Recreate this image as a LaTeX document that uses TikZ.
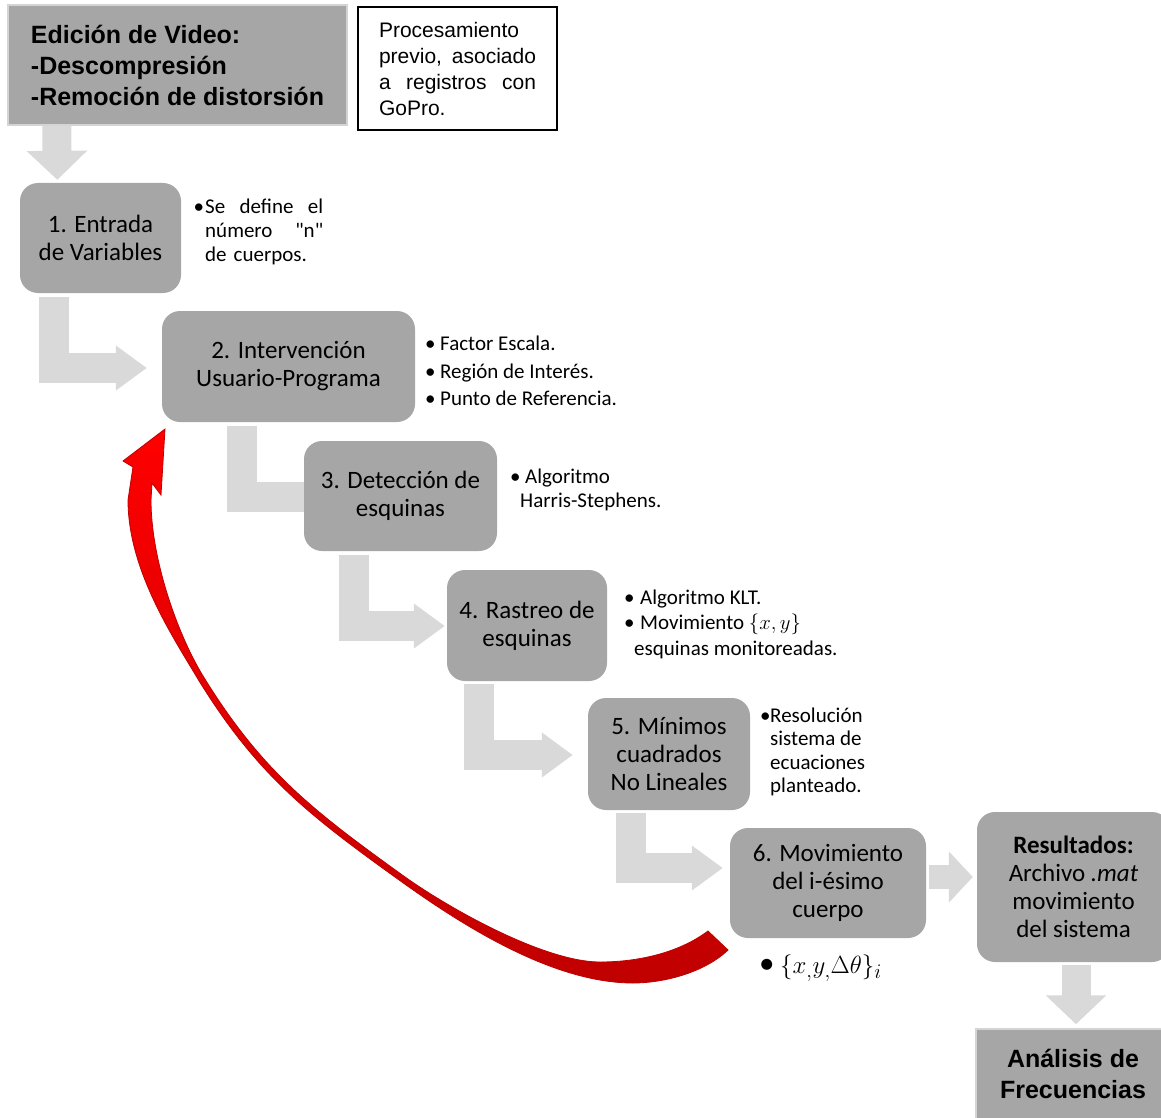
\documentclass[tikz,border=0pt]{standalone}
\usepackage{fontspec}
\setmainfont{Carlito}
\newfontfamily\arialfont{Liberation Sans}
\usetikzlibrary{arrows.meta,backgrounds}
\definecolor{boxgray}{HTML}{A6A6A6}
\definecolor{arrowgray}{HTML}{D9D9D9}
\definecolor{edgegray}{HTML}{D4D4D4}
\definecolor{loopred}{HTML}{C00000}
\tikzset{
  stepbox/.style={fill=boxgray, rounded corners=18pt, align=center, inner sep=0pt,
    font=\fontsize{25}{28}\selectfont},
  headbox/.style={fill=boxgray, draw=edgegray, line width=1.5pt, inner sep=0pt,
    font=\arialfont\bfseries\fontsize{25}{31}\selectfont},
  note/.style={align=left, inner sep=0pt, font=\fontsize{21}{27.5}\selectfont},
  elbow/.style={draw=arrowgray, line width=30pt, line join=miter,
    -{Triangle[length=31pt,width=43pt]}},
  elbowbar/.style={draw=arrowgray, line width=30pt, line join=miter},
  downarrow/.style={draw=arrowgray, line width=29pt, -{Triangle[length=29pt,width=59pt]}},
  sidearrow/.style={draw=arrowgray, line width=24pt, -{Triangle[length=24pt,width=50pt]}}
}
\newcommand{\puce}[1]{\makebox[#1][l]{\textbullet}}
\newcommand{\guill}{\XeTeXglyph\XeTeXcharglyph"22\relax}
\begin{document}
\begin{tikzpicture}[x=1pt,y=-1pt]
    \useasboundingbox (0,0) rectangle (1161,1118);
    \clip (0,0) rectangle (1161,1118);
    % Boîtes du haut
    \node[headbox, minimum width=339pt, minimum height=120pt, align=left] (video) at (177.5,65)
        {Edición de Video:\\-Descompresión\\-Remoción de distorsión};
    \node[draw, line width=1.5pt, minimum width=199pt, minimum height=123pt, text width=157pt, inner sep=0pt,
        align=left, font=\arialfont\fontsize{21}{26}\selectfont] (gopro) at (457.5,68.5)
        {Procesamiento\\previo,\hfill asociado\\a\hfill registros\hfill con\\GoPro.};
    % Étapes
    \node[stepbox, minimum width=161pt, minimum height=110pt] (e1) at (100.5,238) {1. Entrada\\de Variables};
    \node[stepbox, minimum width=253pt, minimum height=111pt] (e2) at (288.5,366.5) {2. Intervención\\Usuario-Programa};
    \node[stepbox, minimum width=193pt, minimum height=110pt] (e3) at (400.5,496) {3. Detección de\\esquinas};
    \node[stepbox, minimum width=160pt, minimum height=111pt] (e4) at (527,625.5) {4. Rastreo de\\esquinas};
    \node[stepbox, minimum width=162pt, minimum height=112pt] (e5) at (669,754) {5. Mínimos\\cuadrados\\No Lineales};
    \node[stepbox, minimum width=196pt, minimum height=110pt] (e6) at (828,883) {6. Movimiento\\del i-ésimo\\cuerpo};
    % Résultats et analyse
    \node[stepbox, minimum width=193pt, minimum height=150pt] (res) at (1073.5,887)
        {\textbf{Resultados:}\\Archivo \textit{.mat}\\movimiento\\del sistema};
    \node[headbox, align=center, minimum width=194pt, minimum height=90pt] (ana) at (1073,1074)
        {Análisis de\\Frecuencias};
    % Flèches grises (derrière les boîtes)
    \begin{scope}[on background layer]
        \draw[downarrow] ([xshift=49.5pt]video.south west) -- ([xshift=37.5pt,yshift=3pt]e1.north west);
        \draw[elbow] ([xshift=34.5pt,yshift=-4pt]e1.south west) |- ([xshift=-15pt,yshift=-1.5pt]e2.west);
        \draw[elbowbar] ([xshift=80.5pt,yshift=-4pt]e2.south west) |- ([yshift=-1pt]e3.west);
        \draw[elbow] ([xshift=50.5pt,yshift=-4pt]e3.south west) |- ([xshift=-2pt,yshift=-0.5pt]e4.west);
        \draw[elbow] ([xshift=32.5pt,yshift=-3pt]e4.south west) |- ([xshift=-15pt,yshift=-1pt]e5.west);
        \draw[elbow] ([xshift=43pt,yshift=-3pt]e5.south west) |- ([xshift=-7pt,yshift=15pt]e6.west);
        \draw[sidearrow] ([xshift=3pt,yshift=6pt]e6.east) -- ([xshift=-4pt,yshift=10pt]res.west);
        \draw[downarrow] ([xshift=2.5pt,yshift=-3pt]res.south) -- ([xshift=3pt,yshift=4pt]ana.north);
    \end{scope}
    % Notes à droite des étapes
    \node[note, anchor=west, text width=118pt, font=\fontsize{21}{24}\selectfont] (n1) at (205,232)
        {\llap{\textbullet\hspace{1pt}}Se\hfill define\hfill el\\número\hfill \guill n\guill\\de cuerpos.};
    \node[note, anchor=west] (n2) at (425,371)
        {\puce{15pt}Factor Escala.\\\puce{15pt}Región de Interés.\\\puce{15pt}Punto de Referencia.};
    \node[note, anchor=west, font=\fontsize{21}{24}\selectfont] (n3) at (510,490)
        {\puce{15pt}Algoritmo\\\hspace*{10pt}Harris-Stephens.};
    \node[note, anchor=west, font=\fontsize{21}{25.5}\selectfont] (n4) at (624,624)
        {\puce{16pt}Algoritmo KLT.\\\puce{16pt}Movimiento $\{x, y\}$\\\hspace*{10pt}esquinas monitoreadas.};
    \node[note, anchor=west, font=\fontsize{21}{23.5}\selectfont] (n5) at (760,752)
        {\puce{10pt}Resolución\\\hspace*{10pt}sistema de\\\hspace*{10pt}ecuaciones\\\hspace*{10pt}planteado.};
    \node[note, anchor=west, font=\fontsize{31}{33}\selectfont] (n6) at (759,968)
        {\puce{21pt}$\{x_{,}y_{,}\Delta\theta\}_i$};
    % Flèche rouge de retour (de l'étape 6 vers l'étape 2)
    \shadedraw[top color=red, bottom color=loopred, draw=loopred, line width=0.8pt, line join=miter]
        (708,931) .. controls (680,952) and (640,962) .. (600,962)
        .. controls (545,962) and (450,909.4) .. (401.7,874.6)
        .. controls (313,810.7) and (262.2,771.5) .. (204.5,678.4)
        .. controls (178,636) and (151,560) .. (151,500)
        -- (152,483) -- (161,495) -- (165,429) -- (123,461) -- (133,467) -- (128,500)
        .. controls (128,570) and (173,637) .. (199.5,681.6)
        .. controls (257.8,775.5) and (309,815.3) .. (398.3,879.4)
        .. controls (463,926) and (553,983) .. (633,983)
        .. controls (665,983) and (705,972) .. (728,950)
        -- cycle;
\end{tikzpicture}
\end{document}
